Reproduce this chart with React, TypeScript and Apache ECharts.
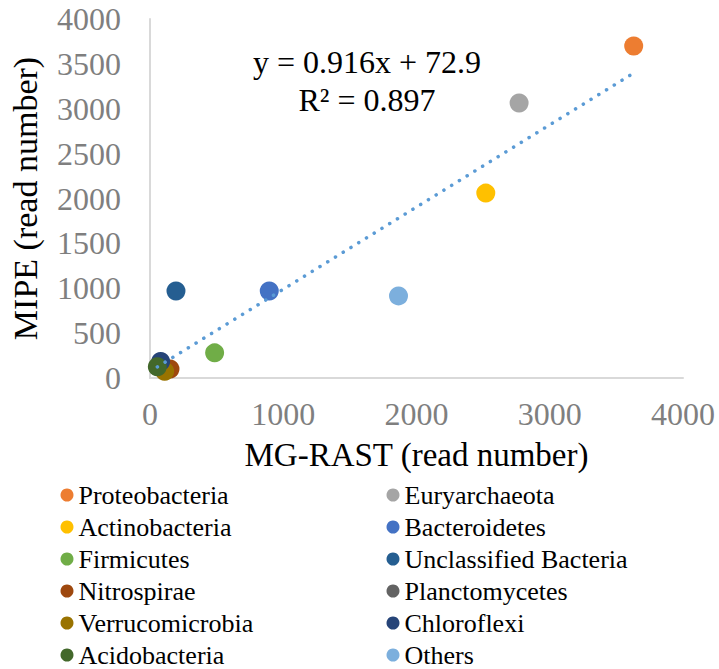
import React, { useEffect, useRef } from "react";
import * as echarts from "echarts";

const seriesNames = [
  "Proteobacteria",
  "Euryarchaeota",
  "Actinobacteria",
  "Bacteroidetes",
  "Firmicutes",
  "Unclassified Bacteria",
  "Nitrospirae",
  "Planctomycetes",
  "Verrucomicrobia",
  "Chloroflexi",
  "Acidobacteria",
  "Others",
];
const mgRast = [3630, 2770, 2520, 895, 485, 195, 150, 70, 110, 80, 55, 1865];
const mipe = [3700, 3065, 2060, 970, 280, 970, 100, 130, 75, 185, 125, 915];
const colors = [
  "#ED7D31",
  "#A5A5A5",
  "#FFC000",
  "#4472C4",
  "#70AD47",
  "#255E91",
  "#9E480E",
  "#636363",
  "#997300",
  "#264478",
  "#43682B",
  "#7CAFDD",
];
const trendSlope = 0.916;
const trendIntercept = 72.9;
const equationText = "y = 0.916x + 72.9";
const r2Text = "R² = 0.897";
const xTicks = { min: 0, max: 4000, interval: 1000 };
const yTicks = { min: 0, max: 4000, interval: 500 };

const FONT = "Liberation Serif";

export default function App() {
  const ref = useRef<HTMLDivElement>(null);
  useEffect(() => {
    if (!ref.current) return;
    const chart = echarts.init(ref.current, undefined, { renderer: "svg" });
    const xmin = Math.min(...mgRast);
    const xmax = Math.max(...mgRast);
    const trendData = [
      [xmin, trendSlope * xmin + trendIntercept],
      [xmax, trendSlope * xmax + trendIntercept],
    ];
    const leftNames = seriesNames.filter((_, i) => i % 2 === 0);
    const rightNames = seriesNames.filter((_, i) => i % 2 === 1);
    const legendBase = {
      orient: "vertical",
      top: 482,
      height: 240,
      padding: 0,
      itemWidth: 13,
      itemHeight: 13,
      itemGap: 6,
      icon: "circle",
      selectedMode: false,
      textStyle: {
        fontFamily: FONT,
        fontSize: 26,
        color: "#000",
        lineHeight: 26,
      },
    };
    const plain = (v: number) => String(v);
    chart.setOption({
      animation: false,
      backgroundColor: "#fff",
      textStyle: { fontFamily: FONT },
      grid: { left: 147, right: 36, top: 19, bottom: 291, containLabel: false },
      xAxis: {
        type: "value",
        ...xTicks,
        axisLine: { show: true, lineStyle: { color: "#D9D9D9", width: 2 } },
        axisTick: { show: false },
        splitLine: { show: false },
        axisLabel: {
          color: "#7F7F7F",
          fontSize: 32,
          fontFamily: FONT,
          margin: 20,
          formatter: plain,
        },
        name: "MG-RAST (read number)",
        nameLocation: "middle",
        nameGap: 60,
        nameTextStyle: { fontSize: 33, color: "#000", fontFamily: FONT },
      },
      yAxis: {
        type: "value",
        ...yTicks,
        axisLine: { show: true, lineStyle: { color: "#D9D9D9", width: 2 } },
        axisTick: { show: false },
        splitLine: { show: false },
        axisLabel: {
          color: "#7F7F7F",
          fontSize: 32,
          fontFamily: FONT,
          margin: 29,
          formatter: plain,
        },
        name: "MIPE (read number)",
        nameLocation: "middle",
        nameGap: 108,
        nameTextStyle: { fontSize: 34, color: "#000", fontFamily: FONT },
      },
      legend: [
        { ...legendBase, left: 60.5, data: leftNames },
        { ...legendBase, left: 386.5, data: rightNames },
      ],
      series: [
        ...seriesNames.map((name, i) => ({
          name,
          type: "scatter",
          symbol: "circle",
          symbolSize: 19,
          itemStyle: { color: colors[i], opacity: 1 },
          data: [[mgRast[i], mipe[i]]],
          z: 2,
        })),
        {
          name: "Linear trend",
          type: "line",
          symbol: "none",
          data: trendData,
          lineStyle: {
            color: "#5B9BD5",
            width: 3.5,
            type: [0.1, 9],
            cap: "round",
          },
          z: 5,
          silent: true,
        },
      ],
      graphic: [
        {
          type: "text",
          x: 367,
          y: 62,
          style: {
            text: equationText,
            textAlign: "center",
            textVerticalAlign: "middle",
            font: `32px "${FONT}"`,
            fill: "#000",
          },
        },
        {
          type: "text",
          x: 367,
          y: 100,
          style: {
            text: r2Text,
            textAlign: "center",
            textVerticalAlign: "middle",
            font: `32px "${FONT}"`,
            fill: "#000",
          },
        },
      ],
    });
    return () => chart.dispose();
  }, []);
  return (
    <div
      ref={ref}
      style={{ position: "fixed", left: 0, top: 0, width: 719, height: 669 }}
    />
  );
}
